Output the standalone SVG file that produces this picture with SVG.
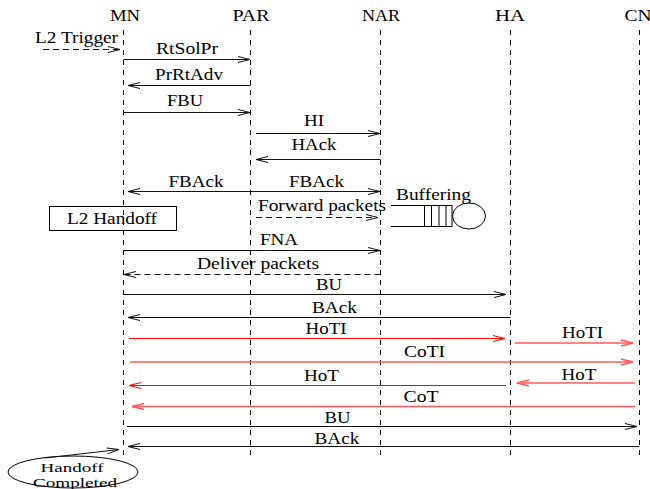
<svg xmlns="http://www.w3.org/2000/svg" width="650" height="489" viewBox="0 0 650 489">
<style>
text{font-family:"Liberation Serif","Times New Roman",serif;font-size:16px;fill:#000}
.m{text-anchor:middle}
.s{font-size:13px}
.life{stroke:#000;stroke-width:1;stroke-dasharray:5 5;fill:none}
.k{stroke:#111;stroke-width:1;fill:none;marker-end:url(#ak)}
.kd{stroke:#111;stroke-width:1;fill:none;stroke-dasharray:6 4;marker-end:url(#ak)}
.r{stroke:#ff0000;stroke-width:1;fill:none;marker-end:url(#ar)}
.lr{stroke:#ff5a5a;stroke-width:1.6;fill:none;marker-end:url(#alr)}
.sh{stroke:#000;stroke-width:1;fill:none}
</style>
<defs>
<marker id="ak" markerUnits="userSpaceOnUse" markerWidth="14" markerHeight="8" refX="12" refY="3" orient="auto" overflow="visible"><path d="M0,0 L12,3 L0,6" fill="none" stroke="#111" stroke-width="1"/></marker>
<marker id="ar" markerUnits="userSpaceOnUse" markerWidth="14" markerHeight="8" refX="12" refY="3" orient="auto" overflow="visible"><path d="M0,0 L12,3 L0,6" fill="none" stroke="#ff0000" stroke-width="1"/></marker>
<marker id="alr" markerUnits="userSpaceOnUse" markerWidth="14" markerHeight="8" refX="12" refY="3" orient="auto" overflow="visible"><path d="M0,0 L12,3 L0,6" fill="none" stroke="#ff5a5a" stroke-width="1.5"/></marker>
</defs>
<rect width="650" height="489" fill="#fff"/>

<g id="MN"><text class="m" x="125" y="21" textLength="30" lengthAdjust="spacingAndGlyphs">MN</text><line class="life" x1="123.5" y1="30" x2="123.5" y2="458"/></g>
<g id="PAR"><text class="m" x="251" y="21" textLength="37" lengthAdjust="spacingAndGlyphs">PAR</text><line class="life" x1="250.5" y1="30" x2="250.5" y2="458"/></g>
<g id="NAR"><text class="m" x="381" y="21" textLength="38" lengthAdjust="spacingAndGlyphs">NAR</text><line class="life" x1="380.5" y1="30" x2="380.5" y2="458"/></g>
<g id="HA"><text class="m" x="510" y="21" textLength="30" lengthAdjust="spacingAndGlyphs">HA</text><line class="life" x1="510.5" y1="30" x2="510.5" y2="458"/></g>
<g id="CN"><text class="m" x="638" y="21" textLength="27" lengthAdjust="spacingAndGlyphs">CN</text><line class="life" x1="639.5" y1="30" x2="639.5" y2="458"/></g>

<g id="l2handoff"><rect x="49.5" y="206.5" width="127" height="24" fill="none" stroke="#000"/><text class="m" x="112" y="224" textLength="90" lengthAdjust="spacingAndGlyphs">L2 Handoff</text></g>
<g id="buffer">
<path class="sh" d="M391,205.5 H452 M391,226.5 H452 M424.5,205.5 V226.5 M431.5,205.5 V226.5 M439,205.5 V226.5 M446,205.5 V226.5 M452,205.5 V226.5"/>
<ellipse class="sh" cx="469" cy="216" rx="16.5" ry="13"/>
<text x="396" y="200" textLength="75" lengthAdjust="spacingAndGlyphs">Buffering</text>
</g>
<g id="completed"><ellipse class="sh" cx="73" cy="472" rx="65" ry="16"/><text class="m s" x="72" y="472" textLength="63" lengthAdjust="spacingAndGlyphs">Handoff</text><text class="m s" x="75" y="486.5" textLength="84" lengthAdjust="spacingAndGlyphs">Completed</text></g>

<g id="connectors">
<line class="kd" x1="43" y1="49.5" x2="120" y2="49.5"/>
<line class="k" x1="123.5" y1="59.5" x2="250" y2="59.5"/>
<line class="k" x1="250.5" y1="85.5" x2="128" y2="85.5"/>
<line class="k" x1="123.5" y1="112.5" x2="250" y2="112.5"/>
<line class="k" x1="256" y1="133.5" x2="380" y2="133.5"/>
<line class="k" x1="380.5" y1="159.5" x2="256" y2="159.5"/>
<line class="k" x1="250.5" y1="191.5" x2="128" y2="191.5"/>
<line class="k" x1="250.5" y1="191.5" x2="380" y2="191.5"/>
<line class="kd" x1="256" y1="217.5" x2="378" y2="217.5"/>
<line class="k" x1="123.5" y1="250.5" x2="380" y2="250.5"/>
<line class="kd" x1="380.5" y1="274.5" x2="124" y2="274.5"/>
<line class="k" x1="123.5" y1="294.5" x2="506" y2="294.5"/>
<line class="k" x1="510.5" y1="317.5" x2="128" y2="317.5"/>
<line class="r" x1="129" y1="338.5" x2="505" y2="338.5"/>
<line class="lr" x1="515" y1="343" x2="633" y2="343"/>
<line class="lr" x1="130" y1="362" x2="633" y2="362"/>
<line class="lr" x1="635" y1="383" x2="517" y2="383"/>
<line class="r" x1="506" y1="385.5" x2="129" y2="385.5"/>
<line class="lr" x1="635" y1="406.5" x2="132" y2="406.5"/>
<line class="k" x1="127" y1="426.5" x2="637" y2="426.5"/>
<line class="k" x1="639.5" y1="446.5" x2="128" y2="446.5"/>
<line class="k" x1="45" y1="458" x2="119" y2="449.5"/>

<text x="35" y="43" textLength="83" lengthAdjust="spacingAndGlyphs">L2 Trigger</text>
<text class="m" x="187" y="54" textLength="62" lengthAdjust="spacingAndGlyphs">RtSolPr</text>
<text class="m" x="189" y="80" textLength="68" lengthAdjust="spacingAndGlyphs">PrRtAdv</text>
<text class="m" x="185" y="106" textLength="36" lengthAdjust="spacingAndGlyphs">FBU</text>
<text class="m" x="314" y="126" textLength="20" lengthAdjust="spacingAndGlyphs">HI</text>
<text class="m" x="314" y="150" textLength="45" lengthAdjust="spacingAndGlyphs">HAck</text>
<text class="m" x="196" y="187" textLength="55" lengthAdjust="spacingAndGlyphs">FBAck</text>
<text class="m" x="316.5" y="187" textLength="55" lengthAdjust="spacingAndGlyphs">FBAck</text>
<text x="258" y="211" textLength="128" lengthAdjust="spacingAndGlyphs">Forward packets</text>
<text class="m" x="279" y="245" textLength="38" lengthAdjust="spacingAndGlyphs">FNA</text>
<text class="m" x="258" y="269" textLength="122" lengthAdjust="spacingAndGlyphs">Deliver packets</text>
<text class="m" x="329" y="290" textLength="26" lengthAdjust="spacingAndGlyphs">BU</text>
<text class="m" x="334.5" y="313" textLength="45" lengthAdjust="spacingAndGlyphs">BAck</text>
<text class="m" x="326" y="334" textLength="41" lengthAdjust="spacingAndGlyphs">HoTI</text>
<text class="m" x="582.5" y="338" textLength="41" lengthAdjust="spacingAndGlyphs">HoTI</text>
<text class="m" x="424.5" y="357" textLength="41" lengthAdjust="spacingAndGlyphs">CoTI</text>
<text class="m" x="321.5" y="381" textLength="35" lengthAdjust="spacingAndGlyphs">HoT</text>
<text class="m" x="579" y="380" textLength="35" lengthAdjust="spacingAndGlyphs">HoT</text>
<text class="m" x="421" y="401.5" textLength="35" lengthAdjust="spacingAndGlyphs">CoT</text>
<text class="m" x="337.5" y="423" textLength="26" lengthAdjust="spacingAndGlyphs">BU</text>
<text class="m" x="337" y="444" textLength="45" lengthAdjust="spacingAndGlyphs">BAck</text>
</g>
</svg>
